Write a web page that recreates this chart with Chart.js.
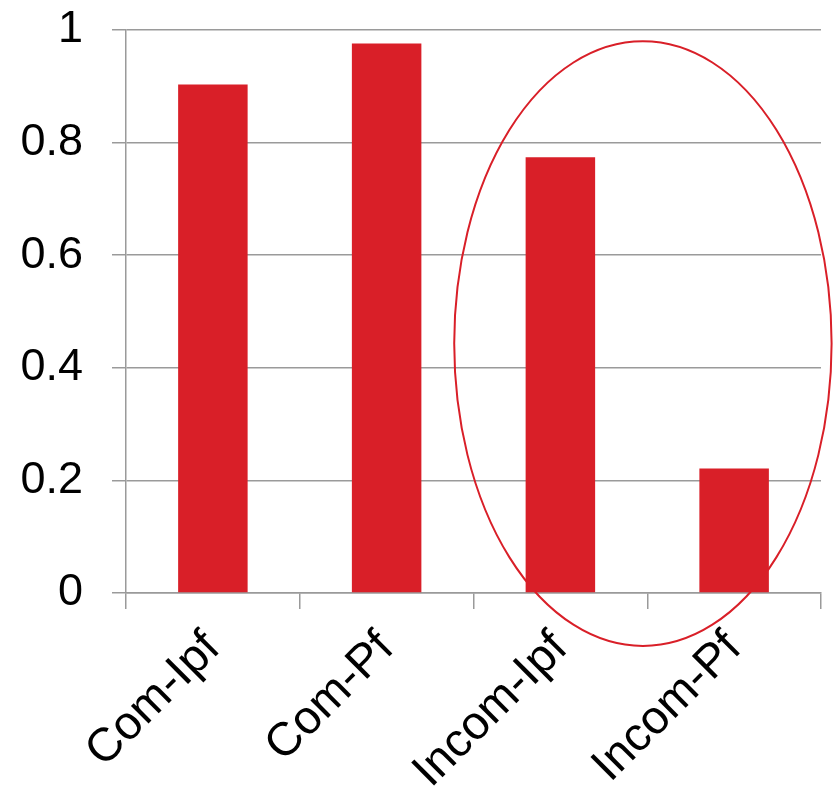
<!DOCTYPE html>
<html>
<head>
<meta charset="utf-8">
<script src="https://cdn.jsdelivr.net/npm/chart.js@4"></script>
<style>
  html, body { margin: 0; padding: 0; background: #fff; }
  #wrap { width: 834px; height: 794px; }
</style>
</head>
<body>
<div id="wrap"><canvas id="barChart"></canvas></div>
<script>
// Data
const categories = ['Com-Ipf', 'Com-Pf', 'Incom-Ipf', 'Incom-Pf'];
const values = [0.903, 0.976, 0.774, 0.221];
const yTicks = [0, 0.2, 0.4, 0.6, 0.8, 1];

const red = '#d91f28';
const gridGray = '#9a9a9a';

// Ellipse highlighting the "Incom" group (centre between the two bars)
const highlightEllipse = {
    id: 'highlightEllipse',
    afterDatasetsDraw(chart) {
        const { ctx, scales: { x, y } } = chart;
        const step = x.getPixelForValue(1) - x.getPixelForValue(0);
        const cx = x.getPixelForValue(2.475);
        const cy = y.getPixelForValue(0.443);
        const rx = step * 1.086;
        const ry = y.getPixelForValue(0) - y.getPixelForValue(0.537);
        ctx.save();
        ctx.beginPath();
        ctx.ellipse(cx, cy, rx, ry, 0, 0, Math.PI * 2);
        ctx.strokeStyle = red;
        ctx.lineWidth = 2;
        ctx.stroke();
        ctx.restore();
    }
};

const ctx = document.getElementById('barChart');
new Chart(ctx, {
    type: 'bar',
    data: {
        labels: categories,
        datasets: [{
            data: values,
            backgroundColor: red,
            borderWidth: 0,
            categoryPercentage: 1,
            barPercentage: 0.4
        }]
    },
    options: {
        responsive: true,
        maintainAspectRatio: false,
        animation: false,
        events: [],
        layout: { padding: { top: 30, right: 13, left: 0, bottom: 0 } },
        plugins: {
            legend: { display: false },
            tooltip: { enabled: false }
        },
        scales: {
            x: {
                grid: {
                    offset: true,
                    drawOnChartArea: false,
                    drawTicks: true,
                    tickLength: 16,
                    color: gridGray,
                    lineWidth: 1.5
                },
                border: { color: gridGray, width: 1.5 },
                ticks: {
                    color: '#000',
                    font: { family: '"Liberation Sans", Arial, sans-serif', size: 47 },
                    minRotation: 45,
                    maxRotation: 45,
                    padding: 12
                },
                afterFit(scale) {
                    scale.height = 201;
                    scale.paddingLeft = 0;
                    scale.paddingRight = 0;
                }
            },
            y: {
                min: 0,
                max: 1,
                afterBuildTicks(scale) {
                    scale.ticks = yTicks.map(v => ({ value: v }));
                },
                grid: {
                    color: gridGray,
                    lineWidth: 1.5,
                    tickLength: 14
                },
                border: { color: gridGray, width: 1.5 },
                ticks: {
                    color: '#000',
                    font: { family: '"Liberation Sans", Arial, sans-serif', size: 45 },
                    padding: 29,
                    callback: v => String(v)
                },
                afterFit(scale) {
                    scale.width = 126;
                    scale.paddingTop = 0;
                    scale.paddingBottom = 0;
                }
            }
        }
    },
    plugins: [highlightEllipse]
});
</script>
</body>
</html>
